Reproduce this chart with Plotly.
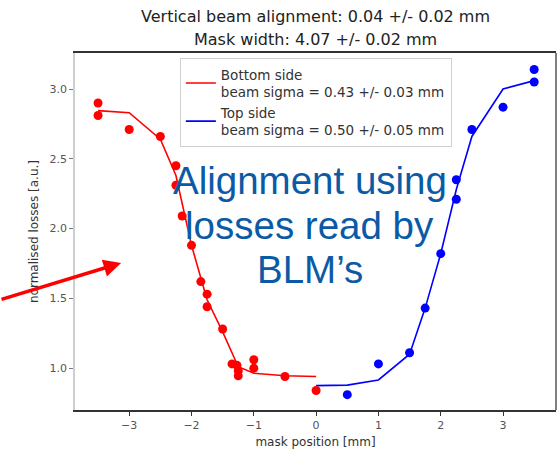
import plotly.graph_objects as go

# Bottom side (red) measurements
red_x = [-3.5, -3.5, -3.0, -2.5, -2.25, -2.25, -2.15, -2.0, -1.85, -1.75, -1.75, -1.5,
         -1.35, -1.27, -1.25, -1.25, -1.0, -1.0, -0.5, 0.0]
red_y = [2.90, 2.81, 2.71, 2.66, 2.45, 2.31, 2.09, 1.88, 1.62, 1.53, 1.44, 1.28,
         1.03, 1.02, 0.98, 0.945, 1.06, 1.00, 0.94, 0.84]
# Bottom side fit
red_fit_x = [-3.5, -3.0, -2.5, -2.25, -2.0, -1.75, -1.5, -1.25, -1.0, -0.5, 0.0]
red_fit_y = [2.845, 2.83, 2.64, 2.38, 1.88, 1.49, 1.26, 1.01, 0.963, 0.945, 0.94]

# Top side (blue) measurements
blue_x = [0.5, 1.0, 1.5, 1.75, 2.0, 2.25, 2.25, 2.5, 3.0, 3.5, 3.5]
blue_y = [0.81, 1.03, 1.11, 1.43, 1.82, 2.35, 2.21, 2.71, 2.87, 3.14, 3.05]
# Top side fit
blue_fit_x = [0.0, 0.5, 1.0, 1.5, 1.75, 2.0, 2.25, 2.5, 3.0, 3.5]
blue_fit_y = [0.875, 0.878, 0.915, 1.10, 1.43, 1.82, 2.28, 2.66, 3.0, 3.06]

x_ticks = [-3, -2, -1, 0, 1, 2, 3]
y_ticks = [1.0, 1.5, 2.0, 2.5, 3.0]

title_lines = ["Vertical beam alignment: 0.04 +/- 0.02 mm", "Mask width: 4.07 +/- 0.02 mm"]
legend_names = ["Bottom side<br>beam sigma = 0.43 +/- 0.03 mm",
                "Top side<br>beam sigma = 0.50 +/- 0.05 mm"]
note_lines = ["Alignment using", "losses read by", "BLM’s"]
note_y = [2.345, 2.022, 1.707]

RED = "#ff0000"
BLUE = "#0000ff"
FONT = "DejaVu Sans"

fig = go.Figure()
fig.add_trace(go.Scatter(x=red_fit_x, y=red_fit_y, mode="lines",
                         line=dict(color=RED, width=1.6), name=legend_names[0]))
fig.add_trace(go.Scatter(x=blue_fit_x, y=blue_fit_y, mode="lines",
                         line=dict(color=BLUE, width=1.6), name=legend_names[1]))
fig.add_trace(go.Scatter(x=red_x, y=red_y, mode="markers", showlegend=False,
                         marker=dict(color=RED, size=9)))
fig.add_trace(go.Scatter(x=blue_x, y=blue_y, mode="markers", showlegend=False,
                         marker=dict(color=BLUE, size=9)))

fig.update_layout(
    width=558, height=462,
    margin=dict(l=75, r=2, t=53, b=52),
    paper_bgcolor="white", plot_bgcolor="white",
    font=dict(family=FONT, size=11, color="#444"),
    showlegend=True,
    legend=dict(x=0.218, y=0.986, xanchor="left", yanchor="top",
                bgcolor="white", bordercolor="#d0d0d0", borderwidth=1,
                font=dict(family=FONT, size=13.5, color="#333"),
                tracegroupgap=0),
    xaxis=dict(range=[-3.87, 3.85], tickvals=x_ticks, showgrid=False, zeroline=False,
               showline=True, linecolor="#333", linewidth=2, mirror=True,
               ticks="outside", ticklen=4, tickcolor="#333",
               tickfont=dict(size=11, color="#555"),
               title=dict(text="mask position [mm]", font=dict(size=12, color="#333"), standoff=6)),
    yaxis=dict(range=[0.70, 3.258], tickvals=y_ticks, tickformat=".1f", showgrid=False,
               zeroline=False, showline=True, linecolor="#cfcfcf", linewidth=1.5,
               ticks="outside", ticklen=4, tickcolor="#777",
               tickfont=dict(size=11, color="#555"),
               title=dict(text="normalised losses [a.u.]", font=dict(size=12, color="#333"), standoff=8)),
)

# right spine
fig.add_shape(type="line", xref="paper", yref="paper", x0=1, x1=1, y0=0, y1=1,
              line=dict(color="#555", width=1.5))

fig.add_annotation(text=title_lines[0], xref="paper", yref="paper", x=0.5, y=1.101,
                   showarrow=False, xanchor="center", yanchor="middle",
                   font=dict(family=FONT, size=16, color="#222"))
fig.add_annotation(text=title_lines[1], xref="paper", yref="paper", x=0.5, y=1.039,
                   showarrow=False, xanchor="center", yanchor="middle",
                   font=dict(family=FONT, size=16, color="#222"))

for line, ly in zip(note_lines, note_y):
    fig.add_annotation(text=line, x=-0.1, y=ly, showarrow=False,
                       xanchor="center", yanchor="middle",
                       font=dict(family="Liberation Sans", size=38.5, color="#0b5aa6"))

fig.add_annotation(x=-3.13, y=1.754, ax=-122, ay=37, showarrow=True,
                   arrowhead=2, arrowsize=1, arrowwidth=3.5, arrowcolor=RED, text="")

fig.write_html("out.html")
